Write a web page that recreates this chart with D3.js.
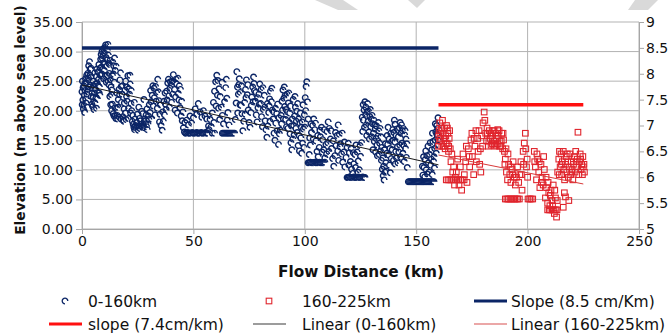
<!DOCTYPE html>
<html>
<head>
<meta charset="utf-8">
<script src="https://cdn.jsdelivr.net/npm/d3@7"></script>
<style>
  body { margin: 0; background: #fff; }
  text { font-family: "DejaVu Sans", sans-serif; fill: #111; }
</style>
</head>
<body>
<div id="chart"></div>
<script>
// blue series, 0-160 km (km, elevation m)
const blueSeries = [
  [0,23.2],[0.2,25.0],[0.4,21.8],[0.6,20.3],[0.8,24.2],[1,22.6],[1.2,19.7],[1.4,23.4],[1.6,25.4],[1.8,21.3],[2,24.7],[2.2,22.8],[2.4,20.6],[2.6,26.3],[2.8,23.6],[3,27.6],[3.2,25.1],[3.4,28.3],[3.6,26.0],[3.8,24.3],[4,27.2],[4.2,22.4],[4.4,21.1],[4.6,23.8],[4.8,20.7],[5,22.3],
  [5.2,21.5],[5.4,20.2],[5.6,23.0],[5.8,21.3],[6,24.5],[6.2,22.1],[6.4,25.8],[6.6,27.0],[6.8,24.7],[7,23.1],[7.2,26.5],[7.4,25.3],[7.6,27.8],[7.8,24.0],[8,22.6],[8.2,26.0],[8.4,28.7],[8.6,29.5],[8.8,27.4],[9,30.0],[9.2,28.8],[9.4,29.3],[9.6,30.5],[9.8,28.1],[10,26.8],
  [10.2,29.7],[10.4,30.7],[10.6,31.1],[10.8,29.0],[11,27.5],[11.2,28.6],[11.4,30.2],[11.6,31.2],[11.8,29.4],[12,28.0],[12.2,26.3],[12.4,27.8],[12.6,28.5],[12.8,25.2],[13,24.0],[13.2,22.7],[13.4,23.5],[13.6,21.1],[13.8,28.2],[14,19.5],[14.2,27.6],[14.4,19.1],[14.6,28.9],[14.8,20.5],[15,19.2],
  [0.1,21.0],[0.5,23.9],[0.9,20.9],[1.3,24.6],[1.7,22.0],[2.1,26.0],[2.5,23.2],[2.9,25.5],[3.3,24.0],[3.7,27.0],[4.1,25.6],[4.5,23.0],[4.9,25.0],[5.3,24.2],[5.7,26.4],[6.1,23.6],[6.5,20.4],[6.9,22.0],[7.3,24.2],[7.7,23.0],[8.1,27.2],[8.5,25.0],[8.9,26.2],[9.3,27.0],[9.7,25.4],[10.1,27.9],[10.5,25.9],[10.9,24.8],[11.3,26.0],[11.7,25.0],[12.1,24.4],[12.5,22.4],[12.9,21.0],[13.3,20.0],[13.7,25.9],[14.1,26.2],[14.5,24.8],[14.9,26.8],[15.3,27.5],[15.6,23.0],
  [15.2,18.7],[15.5,20.4],[15.8,19.2],[16,18.6],[16.3,21.9],[16.6,23.6],[17,25.2],[17.3,26.4],[17.6,24.1],[18,22.8],[18.3,19.0],[18.6,18.4],[19,21.3],[19.3,23.5],[19.6,25.0],[20,22.4],[20.3,21.6],[20.6,25.9],[21,23.7],[21.3,22.8],[21.6,24.5],[22,21.2],
  [16.8,18.9],[17.5,18.6],[18.8,18.2],[19.8,18.5],[20.8,18.7],[21.8,19.6],
  [16.1,20.6],[16.9,22.7],[17.7,21.4],[18.1,24.2],[18.9,20.3],[19.5,19.6],[20.1,24.0],[20.9,20.4],[21.5,26.0],[22.1,23.4],[22.8,19.2],[23.8,18.6],[24.8,19.4],[25.8,18.7],[26.8,19.9],[27.9,18.2],[28.8,19.3],[29.8,19.1],
  [22.3,20.0],[22.6,18.2],[23,17.7],[23.3,17.2],[23.6,16.8],[24,17.5],[24.3,17.1],[24.6,18.0],[25,17.3],[25.3,16.7],[25.6,17.4],[26,17.0],[26.3,18.3],[26.6,17.7],[27,17.2],[27.3,19.5],[27.6,17.5],[28,17.1],[28.3,18.6],[28.6,17.8],[29,17.3],[29.3,16.8],[29.6,17.7],[30,18.5],
  [23.5,21.4],[25.5,20.6],[27.8,21.9],[29.2,20.3],
  [30.5,19.7],[31,21.5],[31.5,22.6],[32,20.8],[32.5,22.2],[33,24.1],[33.5,23.0],[34,25.3],[34.5,21.7],[35,19.4],[35.5,17.5],[36,16.7],
  [31.2,18.6],[32.8,19.3],[33.8,20.4],[34.8,18.1],
  [30.2,21.0],[30.8,23.4],[31.8,24.2],[32.3,23.8],[33.3,21.6],[34.2,23.2],[35.2,21.0],[36.2,19.8],[36.8,21.6],[37.3,23.0],[38.2,21.8],[38.8,25.3],[39.7,24.9],[40.7,22.8],[41.2,24.9],[42.2,25.3],[43.7,24.2],[44.7,21.6],[45.3,19.8],[46.2,18.0],
  [36.5,18.2],[37,19.3],[37.5,21.1],[38,23.3],[38.5,24.7],[39,22.5],[39.5,23.8],[40,24.3],[40.5,25.0],[41,26.1],[41.5,23.6],[42,22.3],[42.5,24.5],[43,25.5],[43.5,21.8],[44,20.5],[44.5,19.1],[45,18.3],
  [37.8,20.2],[39.2,20.6],[40.2,21.4],[41.8,20.1],[42.8,19.6],[43.2,22.9],[44.2,23.6],
  [45.5,17.1],[46,16.4],[46.5,16.2],[47,16.2],[47.5,16.3],[48,16.2],[48.5,16.2],[49,16.2],[49.5,16.3],[50,16.2],[50.5,16.2],[51,16.2],[51.5,16.3],[52,16.2],[52.5,16.2],[53,16.2],[53.5,16.3],[54,16.2],[54.5,16.2],[55,16.2],[55.5,16.3],[56,16.2],[56.5,16.2],
  [47,18.4],[47.8,17.6],[48.5,19.1],[49.2,17.9],[50,18.8],[50.8,20.3],[51.5,19.4],[52.2,21.2],[53,19.8],[53.8,18.9],[54.5,20.0],[55.2,19.1],[56,18.6],[56.8,17.4],[57.5,18.5],
  [57,16.8],[58,17.3],[58.5,19.6],[59,21.4],[59.5,23.3],[60,24.9],[60.5,26.0],[61,25.1],[61.5,23.7],[62,22.4],[62.5,20.6],[63,19.2],[63.5,17.8],[64,21.5],[64.5,23.9],[65,22.1],[65.5,19.7],[66,17.6],
  [58.5,16.2],[59.5,16.2],[63,16.2],[63.5,16.2],[64,16.2],[64.5,16.2],[65,16.2],[65.5,16.2],[66,16.2],[66.5,16.2],[67,16.2],[67.5,16.2],[68,16.2],[68.5,16.2],
  [59.2,18.0],[60.2,20.8],[60.8,22.6],[61.3,20.4],[61.8,18.5],[62.8,24.8],[64.8,25.3],[65.2,18.4],
  [68.8,18.5],[69.2,21.3],[69.5,26.6],[69.8,24.0],[70.2,22.8],[70.6,25.4],[71,23.1],[71.4,20.9],[71.8,19.5],[72.2,16.6],[72.6,18.2],[73,21.4],[73.4,23.6],[73.8,25.2],[74.2,22.7],[74.6,20.1],[75,18.0],
  [69.9,19.6],[70.4,24.4],[70.9,21.0],[71.6,24.2],[73.2,19.4],[73.6,22.2],[74.4,24.4],
  [75.4,17.2],[75.8,19.7],[76.2,22.3],[76.6,24.0],[77,25.7],[77.4,23.4],[77.8,21.6],[78.2,19.3],[78.6,18.1],[79,20.5],[79.4,22.8],[79.8,24.5],[80.2,21.2],[80.6,19.0],[81,17.3],[81.4,20.2],[81.8,22.6],
  [76.0,20.9],[76.8,21.5],[77.2,24.6],[78.0,23.1],[78.8,22.2],[79.6,21.1],[80.4,23.6],[81.2,23.9],[82.0,20.6],[83.2,21.2],[84.0,20.8],[84.4,18.2],[85.2,23.8],[86.0,19.8],[86.8,20.4],[87.6,16.6],[88.4,18.8],
  [82.2,18.3],[82.6,16.8],[83,15.5],[83.4,17.4],[83.8,19.7],[84.2,22.0],[84.6,23.3],[85,21.5],[85.4,20.1],[85.8,18.6],[86.2,16.2],[86.6,15.0],[87,17.9],[87.4,19.5],[87.8,21.1],[88.2,14.3],[88.6,16.1],
  [89,16.7],[89.4,19.2],[89.8,21.6],[90.2,23.5],[90.6,22.1],[91,20.7],[91.4,18.5],[91.8,17.3],[92.2,19.8],[92.6,21.3],[93,18.0],[93.4,16.1],[93.8,14.6],[94.2,13.4],[94.6,15.2],[95,17.5],[95.4,19.1],[95.8,20.6],[96.2,18.2],[96.6,16.3],[97,14.1],[97.4,15.8],[97.8,17.9],[98.2,15.4],[98.6,12.8],[99,14.5],[99.4,16.9],[99.8,19.3],[100.2,22.2],[100.6,24.1],[100.9,24.9],[101.2,21.5],[101.5,18.6],
  [89.6,17.8],[90.0,20.1],[90.4,18.6],[90.8,24.0],[91.2,22.6],[91.6,20.2],[92.0,22.8],[92.4,17.0],[92.8,23.0],[93.2,19.6],[93.6,20.8],[94.0,17.4],[94.4,18.6],[94.8,21.9],[95.2,15.9],[95.6,22.4],[96.0,17.0],[96.4,19.9],[96.8,21.2],[97.2,18.6],[97.6,13.2],[98.0,19.6],[98.4,17.2],[98.8,18.1],[99.2,21.0],[99.6,13.8],[100.0,17.2],[100.4,20.0],
  [101.5,11.2],[102,11.2],[102.5,11.3],[103,11.2],[103.5,11.2],[104,11.2],[104.5,11.3],[105,11.2],[105.5,11.2],[106,11.2],[106.5,11.3],[107,11.2],[107.5,11.2],[108,11.2],[108.5,11.2],[109,11.3],
  [102,12.6],[102.5,14.2],[103,16.3],[103.5,17.5],[104,18.6],[104.5,16.8],[105,14.9],[105.5,13.1],[106,12.2],[106.5,13.8],[107,15.6],[107.5,17.2],[108,15.1],[108.5,13.4],[109,12.0],
  [102.2,15.4],[102.8,17.8],[103.8,15.2],[104.8,17.9],[105.8,15.8],[106.8,16.7],[107.8,13.0],[108.8,16.8],[109.8,12.7],[110.3,14.6],[110.8,13.1],[111.8,16.6],[112.8,14.9],[113.8,16.3],[114.8,13.2],[115.2,11.6],[115.8,13.9],[116.8,16.2],[117.8,14.7],
  [109.5,14.3],[110,16.5],[110.5,18.1],[111,17.0],[111.5,15.2],[112,13.6],[112.5,11.9],[113,10.6],[113.5,12.4],[114,14.1],[114.5,15.8],[115,17.6],[115.5,16.0],[116,14.4],[116.5,12.7],[117,11.3],[117.5,13.0],[118,10.5],
  [119,8.7],[119.5,8.7],[120,8.8],[120.5,8.7],[121,8.7],[121.5,8.7],[122,8.8],[122.5,8.7],[123,8.7],[123.5,8.7],[124,8.8],[124.5,8.7],[125,8.7],[125.5,8.7],[126,8.8],[126.5,8.7],[127,8.7],
  [118.5,12.1],[119,13.8],[119.5,14.5],[120,12.9],[120.5,11.4],[121,10.1],[121.5,9.4],[122,11.0],[122.5,12.6],[123,14.2],[123.5,13.0],[124,11.5],[124.5,10.0],[125,12.3],
  [119.8,10.8],[120.8,13.6],[121.8,12.9],[122.8,10.4],[123.8,9.6],[124.8,14.1],
  [125.5,14.6],[126,16.5],[126.3,18.4],[126.6,20.1],[127,21.5],[127.3,19.3],[127.6,17.6],[128,19.8],[128.4,18.2],[128.8,16.4],[129.2,19.0],[129.6,17.3],[130,15.6],[130.4,17.8],[130.8,16.2],[131.2,14.8],[131.6,16.9],[132,15.3],[132.4,14.2],[132.8,15.7],[133.2,16.6],[133.6,14.5],
  [125.8,18.9],[126.2,21.0],[126.8,17.2],[127.4,20.6],[127.8,15.8],[128.2,21.2],[128.6,19.9],[129.0,15.2],[129.4,20.2],[129.8,18.6],[130.2,19.2],[130.6,13.4],[131.0,18.4],[131.4,17.6],[131.8,13.0],[132.2,17.4],[132.6,12.4],[133.0,18.0],[133.4,12.6],[133.8,17.0],
  [134,13.2],[134.4,11.6],[134.8,10.1],[135.2,9.0],[135.6,8.3],[136,9.6],[136.4,11.2],[136.8,12.8],[137.2,14.3],[137.6,12.5],[138,10.8],[138.4,9.5],[138.8,11.9],
  [134.2,15.6],[134.6,13.8],[135.0,12.0],[135.4,10.6],[135.8,13.4],[136.2,14.4],[136.6,9.8],[137.0,15.8],[137.8,15.2],[138.2,13.6],[138.6,16.2],[139.0,14.8],
  [137.4,17.2],[139.5,16.8],[140.5,17.7],
  [139.2,13.4],[139.6,15.0],[140,16.3],[140.4,14.7],[140.8,13.1],[141.2,12.0],[141.6,13.9],[142,15.6],[142.4,17.1],[142.8,18.0],[143.2,16.2],[143.6,14.5],[144,12.8],[144.4,14.1],[144.8,15.9],[145.2,13.6],[145.6,12.1],[146,10.4],
  [139.8,11.6],[140.2,18.4],[140.6,11.0],[141.0,15.8],[141.4,16.9],[141.8,11.2],[142.2,13.0],[142.6,14.2],[143.0,12.2],[143.4,17.6],[143.8,16.6],[144.2,17.0],[144.6,11.4],[145.0,16.6],[145.4,15.2],[145.8,14.4],
  [146.5,8.0],[147,8.0],[147.5,8.0],[148,8.0],[148.5,8.0],[149,8.0],[149.5,8.0],[150,8.0],[150.5,8.0],[151,8.0],[151.5,8.0],[152,8.0],[152.5,8.0],[153,8.0],[153.5,8.0],[154,8.0],[154.5,8.0],[155,8.0],[155.5,8.0],[156,8.0],[156.5,8.0],[157,8.0],[157.5,8.0],[158,8.0],
  [153,9.1],[153.5,10.4],[154,11.7],[154.5,10.0],[155,9.3],[155.5,11.2],[156,12.6],[156.5,10.8],[157,13.4],[157.5,14.8],[158,12.2],[158.5,15.0],[158.8,16.4],[159.2,17.5],[159.5,15.8],[159.8,18.8],[159.6,14.2],[158.2,10.3],[157.2,9.2],
  [152.8,10.6],[153.3,12.2],[153.8,8.8],[154.3,13.2],[154.8,12.4],[155.3,14.0],[155.8,9.6],[156.3,14.6],[156.8,11.8],[157.3,16.2],[157.8,11.4],[158.3,13.6],[158.6,17.8],[159.0,12.8],[159.3,16.0],[159.7,17.0],[159.9,15.0]
];

// red series, 160-225 km, plotted against the right axis
const redSeries = [
  [160,6.6],[160.3,6.9],[160.6,7.05],[160.9,6.75],[161.2,6.95],[161.5,6.6],[161.8,7.1],[162.1,6.85],[162.4,6.7],[162.7,6.95],[163,6.55],[163.3,6.8],[163.6,7.0],[163.9,6.65],[164.2,6.85],[164.5,6.5],[164.8,6.75],
  [160.1,6.8],[160.5,6.7],[161,6.85],[161.6,6.95],[162.2,6.6],[162.9,6.75],[163.4,6.65],[164,6.95],[164.6,6.6],[165,6.9],[165.3,6.55],[165.6,6.3],[166,6.45],[166.4,6.1],[166.8,6.2],[167.2,5.85],[167.6,6.0],
  [163.5,5.95],[164.3,5.95],[165.1,5.95],[165.9,5.95],[166.7,5.95],[167.5,5.95],[168.3,5.95],[169.1,5.95],[169.9,5.95],[170.7,5.95],[171.5,5.95],
  [168,6.1],[168.6,6.35],[169.2,5.85],[169.8,6.2],[170.4,5.75],[171,6.45],[171.6,6.05],[172.2,6.3],[172.8,5.9],[173.4,6.55],[174,6.2],[174.6,6.72],[175.2,6.4],[175.8,6.05],[176.4,6.6],[177,6.3],
  [172.5,6.6],[173.8,6.4],[175,6.85],[176,6.75],[176.8,6.9],[177.8,6.5],[178.5,6.25],[179,6.1],[179.8,6.6],
  [177.6,6.75],[178.2,6.9],[178.8,6.55],[179.4,6.8],[180,7.05],[180.5,7.26],[180.8,7.1],[181.2,6.85],
  [181.6,6.7],[182,6.85],[182.4,6.6],[182.8,6.9],[183.2,6.75],[183.6,6.62],[184,6.8],[184.4,6.9],[184.8,6.7],[185.2,6.6],[185.6,6.85],[186,6.75],[186.4,6.65],[186.8,6.8],[187.2,6.9],[187.6,6.7],[188,6.6],[188.4,6.85],[188.8,6.55],[189.2,6.72],[189.6,6.5],
  [181.8,6.95],[182.6,6.7],[183.4,6.85],[184.2,6.65],[185,6.9],[185.8,6.62],[186.6,6.92],[187.4,6.6],[188.2,6.7],[189,6.85],[189.8,6.25],
  [190,6.35],[190.5,6.1],[191,5.95],[191.5,6.25],[192,6.05],[192.5,5.9],[193,6.15],[193.5,6.3],[194,6.0],
  [190.3,6.55],[191.2,6.45],[192.3,6.2],[193.3,6.05],[194.5,5.85],[195,6.0],
  [190,5.58],[190.7,5.58],[191.4,5.58],[192.1,5.58],[192.8,5.58],[193.5,5.58],[194.2,5.58],[194.9,5.58],[195.6,5.58],[196.3,5.58],
  [195.5,6.2],[196,5.9],[196.5,6.05],[197,6.3],[197.5,5.75],[198,6.5],[198.5,6.66],[199,6.85],[199.5,6.2],[200,6.0],
  [197.2,6.05],[198.2,6.25],[199.2,6.55],[199.8,6.35],
  [200.2,5.58],[200.9,5.58],[201.6,5.58],[202.3,5.58],
  [203,6.5],[203.5,6.2],[204,5.95],[204.5,6.35],[205,6.1],[205.5,5.8],[206,6.25],[206.5,6.0],[207,5.85],[207.5,6.15],
  [203.2,6.3],[204.2,6.45],[205.2,6.3],[206.2,5.9],[207.2,6.4],
  [208,5.6],[208.5,5.8],[209,5.5],[209.5,5.7],[210,5.45],[210.5,5.75],[211,5.55],[211.5,5.85],[212,5.3],[212.5,5.6],[213,5.23],
  [208.3,6.0],[209.2,5.9],[210.2,5.65],[211.2,5.45],[212.2,5.75],[213.3,5.55],
  [209,5.37],[209.7,5.37],[210.4,5.37],[211.1,5.37],[211.8,5.37],[212.5,5.37],[213.2,5.37],
  [213.5,6.1],[214,6.35],[214.3,6.5],[214.6,6.2],[215,6.45],[215.3,6.05],[215.6,6.3],[216,6.5],[216.3,6.15],[216.6,5.95],[217,6.25],[217.3,6.4],[217.6,6.1],[218,6.3],[218.3,6.0],[218.6,6.2],[219,6.45],[219.3,6.05],[219.6,6.3],[220,6.15],[220.3,5.95],[220.6,6.25],[221,6.4],[221.3,6.1],[221.6,6.5],[222,6.2],[222.3,6.35],[222.6,6.87],[223,6.05],[223.3,6.3],[223.6,6.45],[224,6.15],[224.3,6.25],[224.6,6.05],[225,6.2],[225.5,6.1],
  [214.2,6.05],[215.2,6.25],[217.8,6.45],[219.8,6.1],[221.8,6.3],[223.8,6.35],[224.8,6.4],[225.3,6.25],
  [216.5,5.7],[217,5.62],[216,5.42],[218.5,5.55]
];

// horizontal slope lines (right axis) and linear trends
const slopeBlue = [[0,8.5],[160,8.5]];
const slopeRed = [[160,7.4],[225,7.4]];
const trendBlue = [[0,24.35],[160,10.85]];
const trendRed = [[160,6.43],[225,5.87]];

const leftTicks = [0,5,10,15,20,25,30,35];
const rightTicks = [5,5.5,6,6.5,7,7.5,8,8.5,9];
const xTicks = [0,50,100,150,200,250];

const W = 669, H = 335;
const margin = { top: 22, right: 30, bottom: 106, left: 82 };
const width = W - margin.left - margin.right;
const height = H - margin.top - margin.bottom;

const svg = d3.select('#chart').append('svg')
  .attr('width', W).attr('height', H)
  .style('background', '#fff');

// faint grey shapes along the top edge (page watermark)
const wm = [
  [[315,0],[343,0],[358,10],[338,10]],
  [[408,0],[425,0],[417,8]],
  [[635,0],[658,0],[648,10],[628,10]]
];
svg.selectAll('polygon.wm').data(wm).enter().append('polygon')
  .attr('points', d => d.join(' '))
  .attr('fill', '#d9d9d9');

const g = svg.append('g').attr('transform', `translate(${margin.left},${margin.top})`);

const x = d3.scaleLinear().domain([0,250]).range([0,width]);
const y = d3.scaleLinear().domain([0,35]).range([height,0]);
const y2 = d3.scaleLinear().domain([5,9]).range([height,0]);

// grid
g.append('g').selectAll('line').data(leftTicks).enter().append('line')
  .attr('x1', 0).attr('x2', width)
  .attr('y1', d => y(d)).attr('y2', d => y(d))
  .attr('stroke', '#b3b3b3').attr('stroke-width', 1);
g.append('g').selectAll('line').data(xTicks).enter().append('line')
  .attr('x1', d => x(d)).attr('x2', d => x(d))
  .attr('y1', 0).attr('y2', height)
  .attr('stroke', '#b3b3b3').attr('stroke-width', 1);

// axes
const axL = g.append('g').call(d3.axisLeft(y).tickValues(leftTicks).tickSize(6).tickPadding(3).tickFormat(d3.format('.2f')));
const axB = g.append('g').attr('transform', `translate(0,${height})`)
  .call(d3.axisBottom(x).tickValues(xTicks).tickSize(5).tickPadding(2));
const axR = g.append('g').attr('transform', `translate(${width},0)`)
  .call(d3.axisRight(y2).tickValues(rightTicks).tickSize(5).tickPadding(2).tickFormat(d => d));
[axL, axB, axR].forEach(a => {
  a.selectAll('path, line').attr('stroke', '#a6a6a6');
  a.selectAll('text').style('font-size', '14px').attr('fill', '#111');
});

// scatter: blue open arcs (circle open at lower right)
const blue = '#0b2566';
const arcPath = 'M2.8,0A2.8,2.8 0 1 0 0,2.8';
g.append('g').selectAll('path').data(blueSeries).enter().append('path')
  .attr('transform', d => `translate(${x(d[0])},${y(d[1])})`)
  .attr('d', arcPath)
  .attr('fill', 'none').attr('stroke', blue).attr('stroke-width', 1.4);

// scatter: red open squares
const red = '#e0252d';
g.append('g').selectAll('rect').data(redSeries).enter().append('rect')
  .attr('x', d => x(d[0]) - 2.8).attr('y', d => y2(d[1]) - 2.8)
  .attr('width', 5.6).attr('height', 5.6)
  .attr('fill', 'none').attr('stroke', red).attr('stroke-width', 1.1);

const line2 = d3.line().x(d => x(d[0])).y(d => y2(d[1]));
const line1 = d3.line().x(d => x(d[0])).y(d => y(d[1]));

g.append('path').datum(trendBlue).attr('d', line1)
  .attr('fill', 'none').attr('stroke', '#1a1a1a').attr('stroke-width', 1);
g.append('path').datum(trendRed).attr('d', line2)
  .attr('fill', 'none').attr('stroke', '#d83a3a').attr('stroke-width', 1);
g.append('path').datum(slopeBlue).attr('d', line2)
  .attr('fill', 'none').attr('stroke', '#0b2566').attr('stroke-width', 3.5);
g.append('path').datum(slopeRed).attr('d', line2)
  .attr('fill', 'none').attr('stroke', '#ff1010').attr('stroke-width', 3.5);

// axis titles
svg.append('text')
  .attr('transform', `translate(25,120) rotate(-90)`)
  .attr('text-anchor', 'middle')
  .style('font-size', '13.8px').style('font-weight', 'bold')
  .text('Elevation (m above sea level)');
svg.append('text')
  .attr('x', 361).attr('y', 276.5)
  .attr('text-anchor', 'middle')
  .style('font-size', '15.3px').style('font-weight', 'bold')
  .text('Flow Distance (km)');

// legend: three columns, two rows
const legendItems = [
  { label: '0-160km', kind: 'arc', x: 49, tx: 88, y: 301 },
  { label: '160-225km', kind: 'square', x: 253, tx: 302, y: 301 },
  { label: 'Slope (8.5 cm/Km)', kind: 'line', color: '#0b2566', w: 3, x: 474, tx: 511, y: 301 },
  { label: 'slope (7.4cm/km)', kind: 'line', color: '#ff1010', w: 3, x: 49, tx: 88, y: 324 },
  { label: 'Linear (0-160km)', kind: 'line', color: '#3a3a3a', w: 1.2, x: 253, tx: 302, y: 324 },
  { label: 'Linear (160-225km)', kind: 'line', color: '#d85050', w: 1.2, x: 474, tx: 511, y: 324 }
];
const lg = svg.append('g');
legendItems.forEach(it => {
  const cx = it.x + 16;
  if (it.kind === 'arc') {
    lg.append('path').attr('transform', `translate(${cx},${it.y})`)
      .attr('d', arcPath)
      .attr('fill', 'none').attr('stroke', blue).attr('stroke-width', 1.3);
  } else if (it.kind === 'square') {
    lg.append('rect').attr('x', cx - 2.8).attr('y', it.y - 2.8)
      .attr('width', 5.6).attr('height', 5.6)
      .attr('fill', 'none').attr('stroke', red).attr('stroke-width', 1.1);
  } else {
    lg.append('line').attr('x1', it.x).attr('x2', it.x + 33)
      .attr('y1', it.y).attr('y2', it.y)
      .attr('stroke', it.color).attr('stroke-width', it.w);
  }
  lg.append('text').attr('x', it.tx).attr('y', it.y + 5.5)
    .style('font-size', '15.5px').text(it.label);
});
</script>
</body>
</html>
